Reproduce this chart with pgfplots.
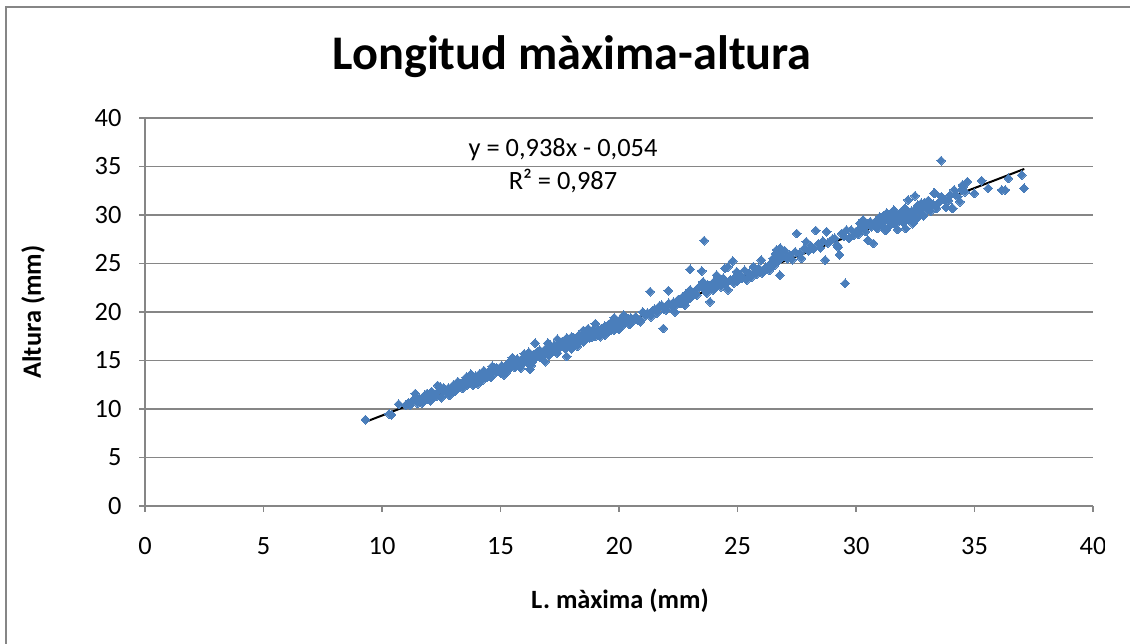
\documentclass[border=0pt]{standalone}
\usepackage{fontspec}
\setmainfont{Carlito}
\usepackage{pgfplots}
\pgfplotsset{compat=1.18}
\definecolor{ptblue}{RGB}{74,126,187}
\definecolor{gridgray}{RGB}{134,134,134}
\begin{document}
\begin{tikzpicture}
\useasboundingbox (0bp,0bp) rectangle (1130bp,644bp);
\fill[white] (0bp,0bp) rectangle (1130bp,644bp);
\draw[gridgray, line width=2bp] (6bp,0bp) -- (6bp,637bp) -- (1130bp,637bp);
\begin{axis}[
  at={(145bp,138bp)}, anchor=south west,
  scale only axis, width=948bp, height=388bp,
  xmin=0, xmax=40, ymin=0, ymax=40,
  xtick={0,5,...,40}, ytick={0,5,...,40},
  axis x line*=bottom, axis y line*=left,
  axis line style={gridgray, line width=1.2bp},
  ymajorgrids, major grid style={gridgray, line width=1.2bp},
  tick align=outside, major tick length=6bp,
  tick style={gridgray, line width=1.2bp},
  ticklabel style={font=\fontsize{26.5}{31}\selectfont, text=black},
  xticklabel style={yshift=-22bp},
  yticklabel style={xshift=-14bp},
  /pgf/number format/assume math mode=true,
  clip=false,
]
\addplot[only marks, mark=square*, mark size=3.1bp,
  mark options={rotate=45, fill=ptblue, draw=ptblue, line width=0pt}]
coordinates {
(9.3,8.9) (10.3,9.5) (10.4,9.4) (10.7,10.5) (11.0,10.4) (11.1,10.6) (11.2,10.4) (11.3,10.9) (11.4,11.6) (11.45,11.2) (11.5,10.6)
(11.6,11.03) (11.7,10.62) (11.8,11.41) (11.9,11.01) (12.0,11.30) (12.05,10.85) (12.1,11.80) (12.2,11.39) (12.3,11.28) (12.35,12.43)
(12.4,11.88) (12.5,11.17) (12.55,11.82) (12.6,12.17) (12.7,11.66) (12.8,12.15) (12.85,11.40) (12.9,12.05) (13.0,12.44) (13.1,11.93)
(13.2,12.83) (13.25,12.27) (13.3,12.62) (13.4,12.12) (13.5,12.71) (13.55,13.26) (13.6,12.50) (13.7,13.10) (13.8,12.89) (13.85,12.44)
(13.9,13.18) (14.0,12.98) (14.1,13.57) (14.15,12.92) (14.2,13.37) (14.3,13.96) (14.4,13.25) (14.45,13.50) (14.5,13.85) (14.6,13.24)
(14.7,13.93) (14.75,14.28) (14.8,13.73) (14.9,14.02) (15.0,13.72) (15.05,14.46) (15.1,14.11) (15.2,14.40) (15.25,13.75) (15.3,14.60)
(15.4,14.19) (15.45,15.04) (15.5,14.58) (15.6,14.28) (15.65,14.83) (15.7,15.17) (15.8,14.67) (15.85,14.21) (15.9,15.16) (16.0,14.95)
(16.05,15.40) (16.1,14.85) (16.2,15.84) (16.24,14.08) (16.3,15.34) (16.35,14.88) (16.4,15.63) (16.46,16.79) (16.5,15.32) (16.6,15.72)
(16.65,16.06) (16.7,15.31) (16.8,15.80) (16.88,14.88) (16.9,16.20) (17.0,15.89) (17.05,15.54) (17.1,16.59) (17.2,16.28) (17.3,15.97)
(17.35,16.52) (17.4,15.77) (17.5,16.46) (17.6,16.95) (17.65,16.40) (17.7,16.85) (17.79,15.43) (17.8,17.34) (17.9,16.44) (17.95,16.98)
(18.0,17.43) (18.05,16.68) (18.1,17.32) (18.2,17.02) (18.25,16.47) (18.3,17.61) (18.4,17.10) (18.45,17.55) (18.5,16.90) (18.6,17.59)
(18.7,18.29) (18.75,17.33) (18.8,17.68) (18.9,18.17) (19.0,17.47) (19.1,18.16) (19.2,17.46) (19.3,18.15) (19.4,18.54) (19.5,18.04)
(19.6,18.33) (19.7,19.02) (19.8,18.12) (19.9,18.81) (20.0,19.11) (20.1,18.50) (20.2,19.69)
(12.15,11.6) (12.65,11.9) (13.15,12.1) (13.45,12.9) (13.65,12.6) (13.95,13.4) (14.25,13.0) (14.35,13.6) (14.55,13.6) (14.85,14.2)
(15.15,14.3) (15.35,14.8) (15.55,14.9) (15.75,14.5) (15.95,14.7) (16.15,15.3) (16.45,15.2) (16.55,15.9) (16.75,15.4) (16.95,16.0)
(17.15,15.8) (17.25,16.5) (17.45,16.2) (17.55,16.6) (17.75,16.2) (17.85,17.0) (18.15,16.8) (18.35,17.4) (18.55,17.2) (18.65,17.8)
(18.85,17.4) (18.95,17.9) (19.05,18.0) (19.25,18.3) (19.35,17.9) (19.45,18.4) (19.55,18.7) (19.65,18.1) (19.75,18.5) (19.85,18.6)
(19.95,18.9) (20.05,18.8) (20.15,19.3) (20.25,19.2)
(11.9,11.6) (12.45,12.3) (13.05,11.8) (13.75,13.6) (14.05,12.6) (14.65,14.4) (15.15,13.5) (15.5,15.3) (16.0,15.7) (16.3,14.5)
(17.0,16.8) (17.4,17.2) (18.0,16.2) (18.5,18.1) (19.0,18.8) (19.4,17.6) (19.8,19.4) (20.0,18.2)
(20.3,19.0) (20.4,19.3) (20.45,18.7) (20.5,19.4) (20.6,19.1) (20.7,19.5) (20.8,19.2) (20.9,19.0) (21.0,20.0) (21.1,19.6)
(21.2,19.9) (21.31,22.1) (21.35,19.5) (21.4,20.1) (21.5,20.3) (21.6,19.9) (21.7,20.6) (21.8,20.7) (21.87,18.31) (21.9,20.3)
(22.0,20.2) (22.08,22.2) (22.1,20.9) (22.2,20.6) (22.3,21.0) (22.36,20.0) (22.4,20.7) (22.5,21.3) (22.57,21.2) (22.6,20.9)
(22.7,21.6) (22.78,20.7) (22.85,21.9) (22.9,21.3) (23.0,21.4) (23.0,22.27) (23.0,24.4) (23.1,22.0) (23.2,21.8) (23.28,21.75)
(23.3,22.4) (23.4,22.6) (23.49,24.23) (23.55,23.1) (23.59,27.35) (23.6,22.3) (23.7,21.96) (23.75,22.8) (23.84,21.06) (23.9,22.5)
(23.98,22.27) (24.0,23.1) (24.1,22.7) (24.12,23.8) (24.2,23.0) (24.26,23.3) (24.3,22.6) (24.4,23.47) (24.47,24.5) (24.5,22.9)
(24.6,22.3) (24.6,24.67) (24.7,23.3) (24.8,25.25) (24.85,23.0) (24.9,23.6) (24.97,24.15) (25.0,23.2) (25.1,23.8) (25.2,23.5)
(25.3,24.3) (25.39,23.3) (25.45,23.9) (25.5,24.0) (25.6,23.6) (25.67,24.67) (25.75,24.2) (25.8,23.9) (25.9,24.5) (26.0,25.36)
(26.05,24.0) (26.1,24.15) (26.2,24.6) (26.3,24.7) (26.35,24.3) (26.4,25.0) (26.5,25.53) (26.55,24.8) (26.6,26.0) (26.65,26.4)
(26.7,25.2) (26.79,23.8) (26.8,26.6) (26.85,25.6) (26.93,26.2) (27.0,26.3) (27.1,25.5) (27.2,25.9) (27.3,25.4) (27.43,26.2)
(27.5,28.1) (27.6,26.0) (27.7,25.53) (27.8,26.5) (27.9,27.25) (28.0,26.3) (28.1,26.8) (28.2,26.5) (28.3,28.4) (28.4,27.0)
(28.5,26.6) (28.6,27.3) (28.7,25.36) (28.76,28.28) (28.8,27.1) (28.9,27.25) (29.0,27.5) (29.1,27.6) (29.2,26.9) (29.25,26.7)
(29.3,25.9) (29.4,28.1) (29.5,27.8) (29.54,22.96) (29.6,28.45) (29.7,27.6) (29.8,28.45) (29.9,27.9) (30.0,28.3) (30.1,28.0)
(30.17,29.14) (30.2,28.6) (30.3,29.5) (30.4,28.3) (30.5,27.4) (30.6,29.3) (30.65,28.8) (30.73,27.07) (30.8,29.0) (30.9,28.6)
(31.0,29.8) (31.05,29.1) (31.1,28.9) (31.2,29.4) (31.3,30.2) (31.35,28.7) (31.4,29.3) (31.5,29.7) (31.6,30.5) (31.65,29.0)
(31.75,28.5) (31.8,29.6) (31.86,29.8) (31.9,30.3) (32.0,29.2) (32.07,30.7) (32.1,28.6) (32.2,31.55) (32.25,30.0) (32.3,29.5)
(32.35,30.4) (32.4,29.1) (32.49,31.99) (32.5,30.6) (32.6,31.0) (32.7,30.2) (32.8,30.8) (32.9,31.3) (33.0,30.5) (33.1,31.0)
(33.29,32.23) (33.33,32.24) (33.4,30.69) (33.5,31.3) (33.59,35.6) (33.7,31.6) (33.8,30.8) (33.9,31.5) (34.04,30.69) (34.08,30.69)
(34.14,32.58) (34.2,32.1) (34.39,31.37) (34.5,33.1) (34.53,32.92) (34.6,32.4) (34.7,33.44) (34.99,32.23) (35.3,33.54) (35.58,32.75)
(36.15,32.58) (36.3,32.58) (36.43,33.78) (36.99,34.12) (37.09,32.75)
(30.25,28.9) (30.45,29.0) (30.85,29.4) (31.15,29.9) (31.25,28.4) (31.45,30.0) (31.55,29.2) (31.7,30.1) (31.95,29.7) (32.15,29.9)
(32.45,30.3) (32.55,29.6) (32.65,30.9) (32.75,31.2) (32.85,29.9) (33.05,31.5) (33.15,30.4) (33.25,31.1) (33.6,31.9) (33.95,32.0)
(34.3,31.9) (34.45,32.6)
};
\addplot[black, line width=2bp] coordinates {(9.3,8.669) (37.1,34.746)};
\end{axis}
\node[font=\fontsize{48.5}{58}\selectfont\bfseries] at (572bp,587bp) {Longitud màxima-altura};
\node[font=\fontsize{26.5}{31}\selectfont] at (563bp,494bp) {y = 0,938x - 0,054};
\node[font=\fontsize{26.5}{31}\selectfont] at (563bp,463bp) {R² = 0,987};
\node[font=\fontsize{26.5}{31}\selectfont\bfseries] at (620bp,43bp) {L. màxima (mm)};
\node[rotate=90, font=\fontsize{26.5}{31}\selectfont\bfseries] at (33bp,332bp) {Altura (mm)};
\fill[white] (1105bp,0bp) rectangle (1131bp,635.5bp);
\end{tikzpicture}
\end{document}
